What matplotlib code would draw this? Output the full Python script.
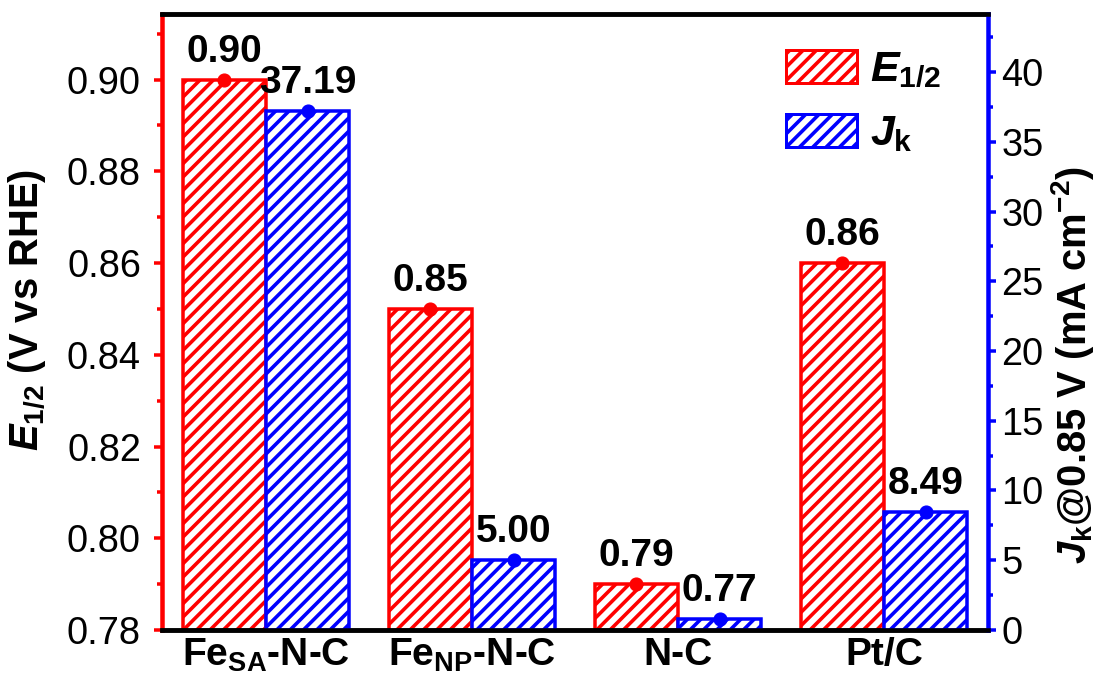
import numpy as np
import matplotlib
matplotlib.use("Agg")
import matplotlib.pyplot as plt
from matplotlib.patches import Patch
from matplotlib.ticker import MultipleLocator, FormatStrFormatter

DPI = 80


def px(p):
    """pixels -> points at the figure dpi"""
    return p * 72.0 / DPI


plt.rcParams["font.family"] = ["Liberation Sans", "DejaVu Sans"]
plt.rcParams["mathtext.fontset"] = "custom"
plt.rcParams["mathtext.rm"] = "Liberation Sans"
plt.rcParams["mathtext.bf"] = "Liberation Sans:bold"
plt.rcParams["mathtext.it"] = "Liberation Sans:italic:bold"
plt.rcParams["mathtext.default"] = "bf"
plt.rcParams["hatch.linewidth"] = px(3.6)

catalysts = ["Fe$_{SA}$-N-C", "Fe$_{NP}$-N-C", "N-C", "Pt/C"]
e_half = [0.90, 0.85, 0.79, 0.86]          # V vs RHE
j_k = [37.19, 5.00, 0.77, 8.49]            # mA cm^-2 at 0.85 V
e_labels = ["0.90", "0.85", "0.79", "0.86"]
j_labels = ["37.19", "5.00", "0.77", "8.49"]

RED = "#ff0000"
BLUE = "#0000ff"


def main() -> None:
    fig = plt.figure(figsize=(1104 / DPI, 679 / DPI), dpi=DPI)
    ax = fig.add_axes([0.1467, 0.0722, 0.7483, 0.9072])
    ax2 = ax.twinx()

    x = np.arange(len(catalysts))
    w = 0.405

    ax.bar(x - w / 2, e_half, width=w, facecolor="white",
           edgecolor=RED, hatch="//", linewidth=px(3.5), zorder=2)
    ax2.bar(x + w / 2, j_k, width=w, facecolor="white",
            edgecolor=BLUE, hatch="//", linewidth=px(3.5), zorder=2)

    ax.plot(x - w / 2, e_half, "o", color=RED, ms=px(13), zorder=4, clip_on=False)
    ax2.plot(x + w / 2, j_k, "o", color=BLUE, ms=px(13), zorder=4, clip_on=False)

    for xi, v, s in zip(x - w / 2, e_half, e_labels):
        ax.annotate(s, (xi, v), xytext=(0, px(10)), textcoords="offset points",
                    ha="center", va="bottom", fontsize=px(39), fontweight="bold")
    for xi, v, s in zip(x + w / 2, j_k, j_labels):
        ax2.annotate(s, (xi, v), xytext=(0, px(10)), textcoords="offset points",
                     ha="center", va="bottom", fontsize=px(39), fontweight="bold")

    ax.set_xlim(-0.505, 3.505)
    ax.set_ylim(0.78, 0.9143)
    ax2.set_ylim(0, 44.16)

    ax.set_xticks(x)
    ax.set_xticklabels(catalysts, fontsize=px(39), fontweight="bold")
    ax.tick_params(axis="x", length=0, pad=px(7))

    ax.yaxis.set_major_locator(MultipleLocator(0.02))
    ax.yaxis.set_minor_locator(MultipleLocator(0.01))
    ax.yaxis.set_major_formatter(FormatStrFormatter("%.2f"))
    ax.tick_params(axis="y", which="major", direction="out", length=px(8),
                   width=px(3.5), color=RED, labelsize=px(38), pad=px(13))
    ax.tick_params(axis="y", which="minor", direction="out", length=px(5),
                   width=px(3.5), color=RED)

    ax2.yaxis.set_major_locator(MultipleLocator(5))
    ax2.yaxis.set_minor_locator(MultipleLocator(2.5))
    ax2.tick_params(axis="y", which="major", direction="out", length=px(8),
                    width=px(3.5), color=BLUE, labelsize=px(38), pad=px(5))
    ax2.tick_params(axis="y", which="minor", direction="out", length=px(5),
                    width=px(3.5), color=BLUE)

    for a in (ax, ax2):
        for side in ("top", "bottom"):
            a.spines[side].set_color("black")
            a.spines[side].set_linewidth(px(4.5))
    ax.spines["left"].set_color(RED)
    ax.spines["left"].set_linewidth(px(4.5))
    ax.spines["right"].set_visible(False)
    ax2.spines["left"].set_visible(False)
    ax2.spines["right"].set_color(BLUE)
    ax2.spines["right"].set_linewidth(px(4.5))

    ax.set_ylabel(r"$\mathit{E}_{1/2}$ (V vs RHE)", fontsize=px(40),
                  fontweight="bold")
    ax.yaxis.set_label_coords(-0.138, 0.52)
    ax2.set_ylabel(r"$\mathit{J}_{k}$@0.85 V (mA cm$^{-2}$)", fontsize=px(40),
                   fontweight="bold", rotation=90)
    ax2.yaxis.set_label_coords(1.074, 0.43)

    handles = [
        Patch(facecolor="white", edgecolor=RED, hatch="//", linewidth=px(3)),
        Patch(facecolor="white", edgecolor=BLUE, hatch="//", linewidth=px(3)),
    ]
    ax2.legend(handles, [r"$\mathit{E}_{1/2}$", r"$\mathit{J}_{k}$"],
               loc="upper right", bbox_to_anchor=(0.99, 1.005), frameon=False,
               fontsize=px(43), handlelength=1.65, handleheight=0.8,
               labelspacing=0.55, handletextpad=0.3)

    fig.savefig("out.png", dpi=DPI)


if __name__ == "__main__":
    main()
